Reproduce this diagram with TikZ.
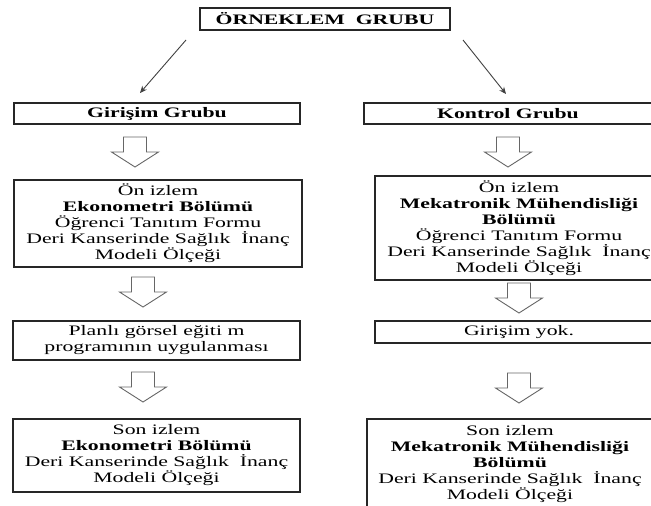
\documentclass[tikz,border=0pt]{standalone}
\usepackage{fontspec}
\setmainfont[FakeStretch=1.5]{Liberation Serif}
\usetikzlibrary{arrows.meta}
\begin{document}
\begin{tikzpicture}[x=1pt,y=-1pt,
  box/.style={draw=black!85, line width=1.3pt, rectangle, align=center, inner sep=0pt,
    font=\fontsize{14.5}{16}\selectfont, text=black},
  diag/.style={draw=black!75, line width=0.9pt, -{Stealth[length=7pt,width=6pt]}},
  hollow/.pic={\draw[draw=black!60, line width=0.9pt, fill=white, line join=miter]
    (-11.5,0) -- (11.5,0) -- (11.5,15) -- (23.5,15) -- (0,30) -- (-23.5,15) -- (-11.5,15) -- cycle;}]
\useasboundingbox (0,0) rectangle (651,506);
\clip (0,0) rectangle (651,506);
% boxes
\node[box, minimum width=250pt, minimum height=22pt] (top) at (325,19) {\textbf{ÖRNEKLEM\ \ GRUBU}};
\node[box, minimum width=286pt, minimum height=21pt] (gir) at (157,113.5) {\textbf{Girişim Grubu}};
\node[box, minimum width=288pt, minimum height=21pt] (kon) at (508,113.5) {\textbf{Kontrol Grubu}};
\node[box, minimum width=288pt, minimum height=87pt] (l2) at (158,223.5)
  {Ön izlem\\\textbf{Ekonometri Bölümü}\\Öğrenci Tanıtım Formu\\Deri Kanserinde Sağlık\ \ İnanç\\Modeli Ölçeği};
\node[box, minimum width=288pt, minimum height=104pt] (r2) at (519,228)
  {Ön izlem\\\textbf{Mekatronik Mühendisliği}\\\textbf{Bölümü}\\Öğrenci Tanıtım Formu\\Deri Kanserinde Sağlık\ \ İnanç\\Modeli Ölçeği};
\node[box, minimum width=287pt, minimum height=39pt] (l3) at (156.5,340.5)
  {Planlı görsel eğiti m\\programının uygulanması};
\node[box, minimum width=288pt, minimum height=22pt] (r3) at (519,332) {Girişim yok.};
\node[box, minimum width=287pt, minimum height=73pt] (l4) at (156.5,455.5)
  {Son izlem\\\textbf{Ekonometri Bölümü}\\Deri Kanserinde Sağlık\ \ İnanç\\Modeli Ölçeği};
\node[box, minimum width=286pt, minimum height=91pt] (r4) at (510,464.5)
  {Son izlem\\\textbf{Mekatronik Mühendisliği}\\\textbf{Bölümü}\\Deri Kanserinde Sağlık\ \ İnanç\\Modeli Ölçeği};
% diagonal arrows
\coordinate (d1s) at (186,40);
\coordinate (d1e) at (140,93);
\coordinate (d2s) at (463,40);
\coordinate (d2e) at (506,94);
\draw[diag] (d1s) -- (d1e);
\draw[diag] (d2s) -- (d2e);
% hollow block arrows
\pic (ha1) at (135,137) {hollow};
\pic (hb1) at (508,137) {hollow};
\pic (ha2) at (143,277) {hollow};
\pic (hb2) at (519,283) {hollow};
\pic (ha3) at (143,372) {hollow};
\pic (hb3) at (519,373) {hollow};
\end{tikzpicture}
\end{document}
